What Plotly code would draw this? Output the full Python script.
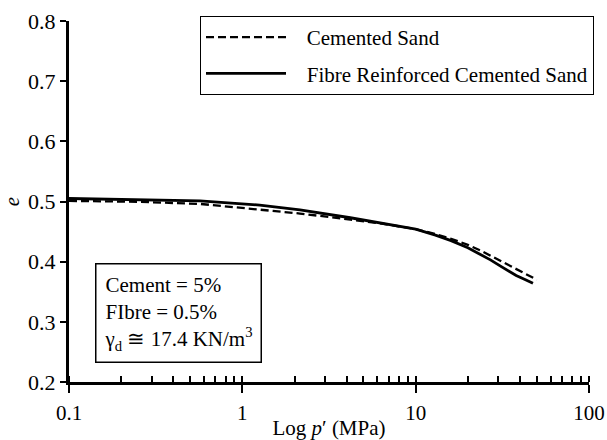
import plotly.graph_objects as go

# Cemented Sand (dashed)
p_cs = [0.1, 0.25, 0.57, 1.26, 2.15, 4.2, 6.5, 10, 13, 16, 20, 23.5, 27, 30.7, 34, 38, 44, 50]
e_cs = [0.501, 0.4995, 0.496, 0.487, 0.480, 0.470, 0.463, 0.454, 0.446, 0.438, 0.428, 0.419, 0.410, 0.401, 0.395, 0.388, 0.379, 0.370]

# Fibre Reinforced Cemented Sand (solid)
p_frcs = [0.1, 0.25, 0.57, 1.26, 2.15, 4.2, 6.5, 10, 13, 16, 20, 23.5, 27, 30.7, 34, 38, 43, 47.5]
e_frcs = [0.505, 0.503, 0.501, 0.494, 0.486, 0.473, 0.464, 0.454, 0.444, 0.435, 0.423, 0.413, 0.403, 0.393, 0.385, 0.377, 0.370, 0.364]

x_tickvals = [0.1, 1, 10, 100]
x_ticktext = ["0.1", "1", "10", "100"]
y_tickvals = [0.2, 0.3, 0.4, 0.5, 0.6, 0.7, 0.8]

FONT = "Liberation Serif, Times New Roman, serif"
PAD = "\u00a0\u00a0\u00a0"

fig = go.Figure()
fig.add_trace(go.Scatter(
    x=p_cs, y=e_cs, mode="lines", name=PAD + "Cemented Sand",
    line=dict(color="black", width=2.3, dash="8px,4px"),
    legendgroup="a"))
fig.add_trace(go.Scatter(
    x=p_frcs, y=e_frcs, mode="lines", name=PAD + "Fibre Reinforced Cemented Sand",
    line=dict(color="black", width=2.8),
    legendgroup="b"))

fig.update_layout(
    width=607, height=440,
    margin=dict(l=69, r=18, t=21, b=58),
    paper_bgcolor="white", plot_bgcolor="white",
    font=dict(family=FONT, size=21, color="black"),
    showlegend=True,
    legend=dict(
        x=(200 - 69) / 520, y=(382 - 16) / 361, xanchor="left", yanchor="top",
        bordercolor="black", borderwidth=1, bgcolor="white",
        font=dict(family=FONT, size=21), itemwidth=80, tracegroupgap=6,
    ),
    xaxis=dict(
        type="log", range=[-1, 2], tickvals=x_tickvals, ticktext=x_ticktext,
        showline=True, linecolor="black", linewidth=3, showgrid=False, zeroline=False,
        ticks="outside", ticklen=8, tickwidth=1.5, tickcolor="black",
        minor=dict(ticks="inside", ticklen=6, tickwidth=1.5, tickcolor="black",
                   dtick="D1", showgrid=False),
        ticklabelstandoff=2, automargin=False,
        tickfont=dict(family=FONT, size=21),
        title=dict(text="Log <i>p</i>′ (MPa)", font=dict(family=FONT, size=21), standoff=12),
    ),
    xaxis2=dict(
        type="log", range=[-1, 2], overlaying="x", tickvals=x_tickvals,
        showticklabels=False, ticks="inside", ticklen=6, tickwidth=1.5, tickcolor="black",
        showline=False, showgrid=False, zeroline=False, side="bottom", automargin=False,
    ),
    yaxis=dict(
        range=[0.2, 0.8], tickvals=y_tickvals, tickformat=".1f",
        showline=True, linecolor="black", linewidth=3, showgrid=False, zeroline=False,
        ticks="outside", ticklen=6, tickwidth=1.5, tickcolor="black",
        ticklabelstandoff=0, automargin=False,
        tickfont=dict(family=FONT, size=22),
        title=dict(text="<i>e</i>", font=dict(family=FONT, size=21), standoff=18),
    ),
    annotations=[dict(
        xref="paper", yref="paper", x=(95 - 69) / 520, y=(382 - 263) / 361,
        xanchor="left", yanchor="top", align="left", showarrow=False,
        text="Cement = 5%<br>FIbre = 0.5%<br>γ<sub>d</sub> ≅ 17.4 KN/m<sup>3</sup>",
        font=dict(family=FONT, size=21), bordercolor="black", borderwidth=1.5,
        borderpad=8, bgcolor="white",
    )],
)
# invisible trace to activate xaxis2
fig.add_trace(go.Scatter(x=[0.1], y=[0.2], xaxis="x2", mode="markers",
                         marker=dict(opacity=0), showlegend=False, hoverinfo="skip"))

fig.write_html("out.html")
